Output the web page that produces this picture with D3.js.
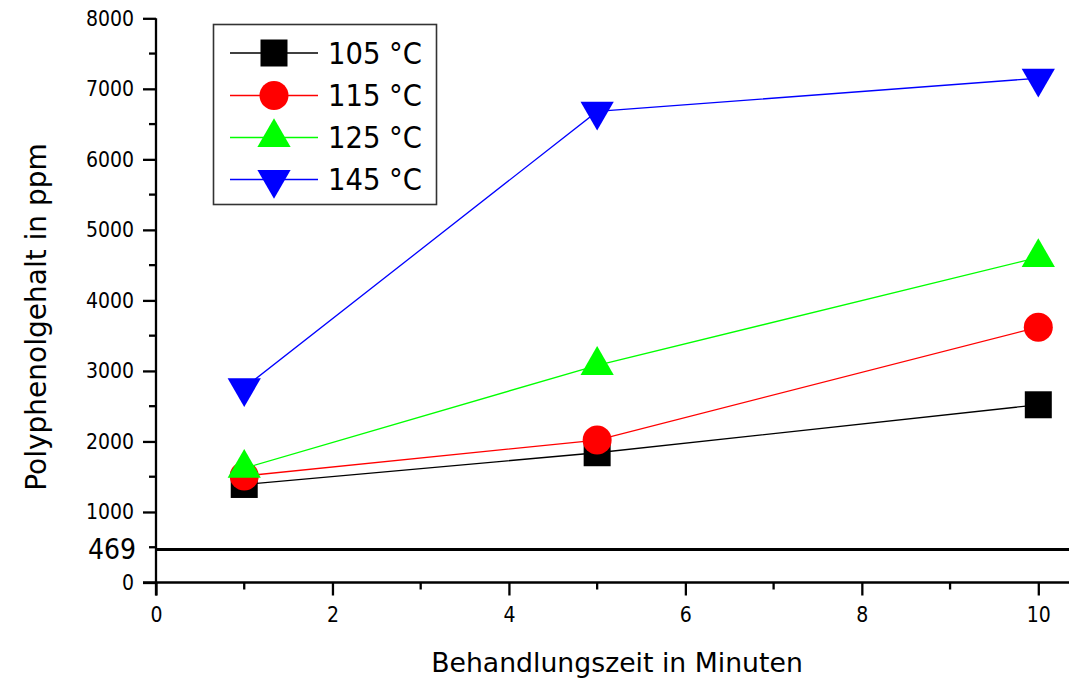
<!DOCTYPE html>
<html>
<head>
<meta charset="utf-8">
<script src="https://cdn.jsdelivr.net/npm/d3@7"></script>
<style>
  body { margin: 0; background: #fff; }
  svg { display: block; }
  text { font-family: "DejaVu Sans Condensed", "DejaVu Sans", sans-serif; fill: #000; }
  .title { font-family: "DejaVu Sans", sans-serif; }
</style>
</head>
<body>
<script>
const minutes = [1, 5, 10];
const temps = ["105 °C", "115 °C", "125 °C", "145 °C"];
const v105 = [1390, 1840, 2520];
const v115 = [1510, 2020, 3620];
const v125 = [1620, 3080, 4610];
const v145 = [2760, 6680, 7150];
const colors = ["#000000", "#ff0000", "#00ff00", "#0000ff"];
const baseline = 469;
const xTicks = [0, 2, 4, 6, 8, 10];
const yTicks = [0, 1000, 2000, 3000, 4000, 5000, 6000, 7000, 8000];

const width = 1069, height = 679;

const x = d3.scaleLinear().domain([0, 10]).range([156, 1038.3]);
const y = d3.scaleLinear().domain([0, 8000]).range([582.5, 18.3]);

const svg = d3.select("body").append("svg")
    .attr("width", width)
    .attr("height", height);

// symbols: square, circle, triangle up, triangle down
const shapes = [
  d3.symbol().type(d3.symbolSquare).size(27 * 27),
  d3.symbol().type(d3.symbolCircle).size(Math.PI * 14.5 * 14.5),
  d3.symbol().type(d3.symbolTriangle).size(33 * 29 / 2),
  d3.symbol().type(d3.symbolTriangle).size(33 * 29 / 2)
];
const flip = [false, false, false, true];

// axes
const xMinor = d3.range(1, 10.5, 2);
const yMinor = d3.range(500, 8000, 1000);

const gx = svg.append("g").attr("transform", `translate(0,${y(0)})`);
gx.append("line").attr("x1", x(0) - 13).attr("x2", width).attr("stroke", "#000").attr("stroke-width", 2.3);
gx.selectAll(".minor").data(xMinor).join("line")
    .attr("class", "minor")
    .attr("x1", d => x(d)).attr("x2", d => x(d)).attr("y1", 0).attr("y2", 7)
    .attr("stroke", "#000").attr("stroke-width", 2.3);
gx.append("g")
    .call(d3.axisBottom(x).tickValues(xTicks).tickSize(13).tickSizeOuter(0).tickPadding(12).tickFormat(d3.format("d")))
    .call(g => g.select(".domain").remove())
    .call(g => g.selectAll(".tick line").attr("stroke-width", 2.3))
    .call(g => g.selectAll(".tick text").attr("font-size", 21));

const gy = svg.append("g").attr("transform", `translate(${x(0)},0)`);
gy.append("line").attr("y1", y(8000)).attr("y2", y(0) + 13).attr("stroke", "#000").attr("stroke-width", 2.3);
gy.selectAll(".minor").data(yMinor).join("line")
    .attr("class", "minor")
    .attr("y1", d => y(d)).attr("y2", d => y(d)).attr("x1", 0).attr("x2", -7)
    .attr("stroke", "#000").attr("stroke-width", 2.3);
gy.append("g")
    .call(d3.axisLeft(y).tickValues(yTicks).tickSize(13).tickSizeOuter(0).tickPadding(9).tickFormat(d3.format("d")))
    .call(g => g.select(".domain").remove())
    .call(g => g.selectAll(".tick line").attr("stroke-width", 2.3))
    .call(g => g.selectAll(".tick text").attr("font-size", 21));

// baseline 469
svg.append("line")
    .attr("x1", x(0)).attr("x2", width)
    .attr("y1", y(baseline)).attr("y2", y(baseline))
    .attr("stroke", "#000").attr("stroke-width", 3);
svg.append("text")
    .attr("x", 136).attr("y", y(baseline))
    .attr("text-anchor", "end").attr("dominant-baseline", "central")
    .attr("font-size", 28)
    .text(baseline);

// series
const series = [v105, v115, v125, v145];
const line = d3.line().x((d, i) => x(minutes[i])).y(d => y(d));

series.forEach((vals, s) => {
  const g = svg.append("g");
  g.append("path").datum(vals)
      .attr("d", line)
      .attr("fill", "none")
      .attr("stroke", colors[s])
      .attr("stroke-width", 1.3);
  g.selectAll("path.m").data(vals).join("path")
      .attr("class", "m")
      .attr("d", shapes[s])
      .attr("fill", colors[s])
      .attr("transform", (d, i) => `translate(${x(minutes[i])},${y(d)})` + (flip[s] ? " rotate(180)" : ""));
});

// legend
const legend = svg.append("g");
legend.append("rect")
    .attr("x", 213.5).attr("y", 24.5).attr("width", 223).attr("height", 180)
    .attr("fill", "#fff").attr("stroke", "#333").attr("stroke-width", 1.6);
const rowY = [53, 95.5, 137.5, 179.5];
temps.forEach((t, s) => {
  legend.append("line")
      .attr("x1", 230).attr("x2", 318).attr("y1", rowY[s]).attr("y2", rowY[s])
      .attr("stroke", colors[s]).attr("stroke-width", 1.3);
  legend.append("path")
      .attr("d", shapes[s])
      .attr("fill", colors[s])
      .attr("transform", `translate(274,${rowY[s]})` + (flip[s] ? " rotate(180)" : ""));
  legend.append("text")
      .attr("x", 328).attr("y", rowY[s])
      .attr("dominant-baseline", "central")
      .attr("font-size", 30.5)
      .text(t);
});

// axis titles
svg.append("text")
    .attr("class", "title")
    .attr("x", 617).attr("y", 671.5)
    .attr("text-anchor", "middle")
    .attr("font-size", 26.7)
    .text("Behandlungszeit in Minuten");
svg.append("text")
    .attr("class", "title")
    .attr("transform", "translate(46,317) rotate(-90)")
    .attr("text-anchor", "middle")
    .attr("font-size", 28)
    .text("Polyphenolgehalt in ppm");
</script>
</body>
</html>
